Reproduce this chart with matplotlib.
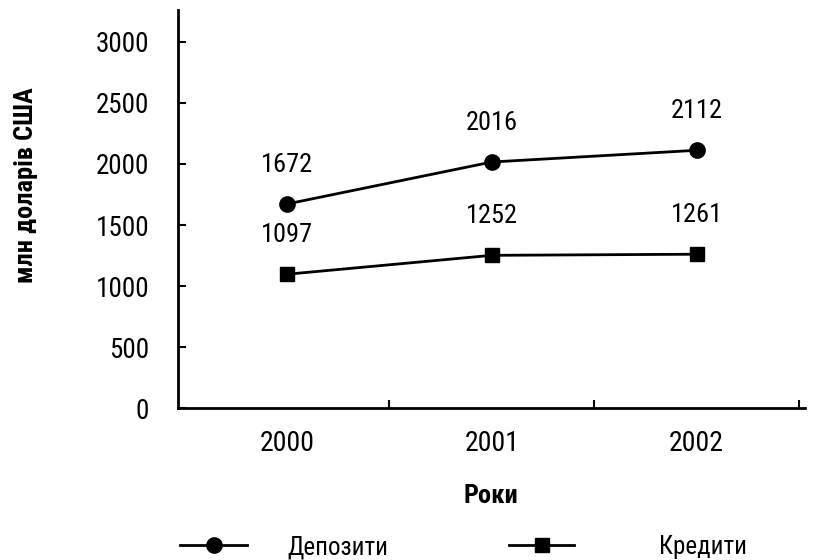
import matplotlib
matplotlib.use("Agg")
import matplotlib.pyplot as plt
from matplotlib import font_manager

years = ["2000", "2001", "2002"]
deposits = [1672, 2016, 2112]
credits = [1097, 1252, 1261]
yticks = [0, 500, 1000, 1500, 2000, 2500, 3000]

# вузький шрифт, якщо є
names = {f.name for f in font_manager.fontManager.ttflist}
fam = [n for n in ["Liberation Sans Narrow", "Roboto Condensed", "Open Sans Condensed",
                   "DejaVu Sans"] if n in names]
plt.rcParams["font.family"] = fam
plt.rcParams["font.stretch"] = "condensed"

fig = plt.figure(figsize=(8.25, 5.6), dpi=100)
ax = fig.add_axes([0.216, 0.271, 0.76, 0.711])

x = list(range(len(years)))
l1, = ax.plot(x, deposits, color="black", lw=2, marker="o", ms=11, label="Депозити")
l2, = ax.plot(x, credits, color="black", lw=2, marker="s", ms=10, label="Кредити")

for xi, v in zip(x, deposits):
    ax.annotate(str(v), (xi, v), xytext=(0, 28), textcoords="offset points",
                ha="center", va="center", fontsize=19)
for xi, v in zip(x, credits):
    ax.annotate(str(v), (xi, v), xytext=(0, 28), textcoords="offset points",
                ha="center", va="center", fontsize=19)

ax.set_xlim(-0.53, 2.53)
ax.set_ylim(0, 3260)
ax.set_yticks(yticks)
ax.set_xticks(x)
ax.set_xticklabels(years)
ax.set_xticks([0.5, 1.5, 2.5], minor=True)

for s in ["top", "right"]:
    ax.spines[s].set_visible(False)
for s in ["left", "bottom"]:
    ax.spines[s].set_linewidth(2)

ax.tick_params(axis="y", direction="in", length=6, width=1.5, pad=21, labelsize=19.5)
ax.tick_params(axis="x", which="major", length=0, pad=16, labelsize=20)
ax.tick_params(axis="x", which="minor", direction="in", length=6, width=1.5)

fig.text(0.032, 0.67, "млн доларів США", rotation=90, ha="center", va="center",
         fontsize=19, fontweight="bold")
fig.text(0.595, 0.114, "Роки", ha="center", va="center", fontsize=19, fontweight="bold")

fig.legend(handles=[l1], loc="center left", bbox_to_anchor=(0.218, 0.023),
           frameon=False, fontsize=18, handlelength=2.7, handletextpad=1.6,
           borderpad=0, borderaxespad=0)
fig.legend(handles=[l2], loc="center left", bbox_to_anchor=(0.617, 0.023),
           frameon=False, fontsize=18, handlelength=2.6, handletextpad=3.4,
           borderpad=0, borderaxespad=0)

fig.savefig("out.png", dpi=100)
